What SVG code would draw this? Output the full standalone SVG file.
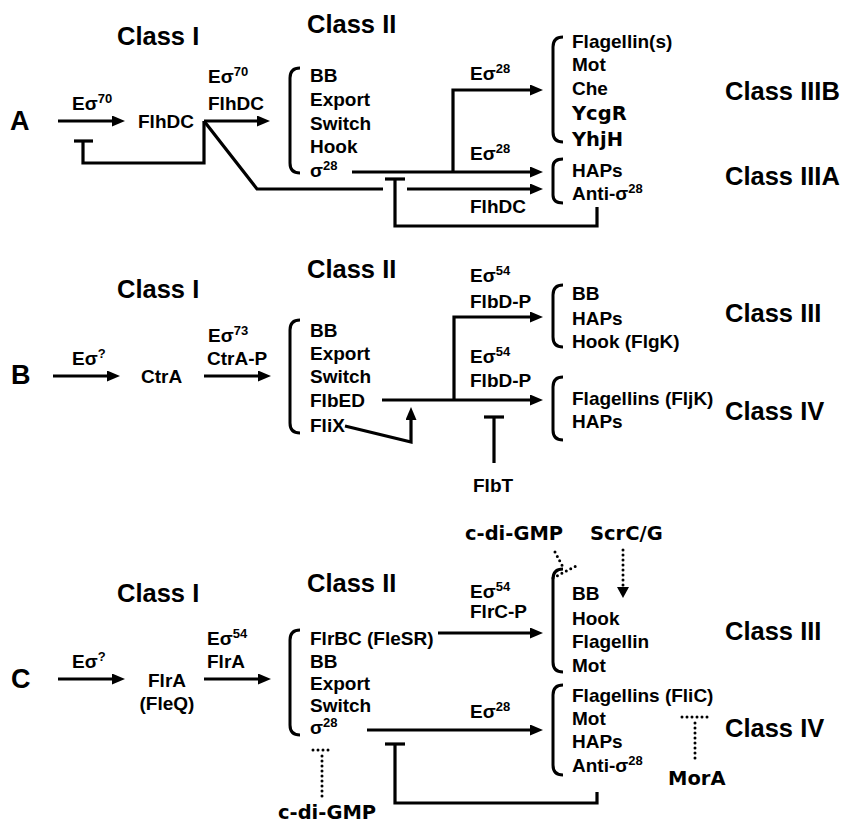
<svg xmlns="http://www.w3.org/2000/svg" width="846" height="824" viewBox="0 0 846 824">
<defs>
<style>
.t{font-family:"Liberation Sans",Arial,sans-serif;font-weight:bold;font-size:19px;fill:#000}
.c{font-size:25.5px}
.p{font-size:27px}
.h{font-family:"DejaVu Sans",Verdana,sans-serif;font-weight:bold;font-size:19.5px;fill:#000}
.s{font-size:13px}
.ln{stroke:#000;stroke-width:3.2;fill:none}
.ar{stroke:#000;stroke-width:3.2;fill:none;marker-end:url(#ah)}
.br{stroke:#000;stroke-width:3;fill:none}
.dt{stroke:#000;stroke-width:3;fill:none;stroke-dasharray:0 5;stroke-linecap:round}
</style>
<marker id="ah" viewBox="0 0 13 11" refX="4" refY="5.5" markerWidth="13" markerHeight="11" markerUnits="userSpaceOnUse" orient="auto">
<path d="M0,0 L13,5.5 L0,11 z" fill="#000"/>
</marker>
</defs>
<rect width="846" height="824" fill="#fff"/>

<g id="connectors">
<!-- Panel A -->
<line class="ar" x1="58" y1="121" x2="116" y2="121"/>
<line class="ar" x1="204" y1="121" x2="261" y2="121"/>
<polyline class="ln" points="204,121 204,163 83,163 83,141"/>
<line class="ln" x1="74" y1="141" x2="93" y2="141"/>
<polyline class="ln" points="204,121 257,189 383,189"/>
<line class="ar" x1="352" y1="172" x2="534" y2="172"/>
<polyline class="ar" points="453,172 453,90 534,90"/>
<line class="ar" x1="407" y1="189" x2="534" y2="189"/>
<line class="ln" x1="385" y1="179" x2="405" y2="179"/>
<polyline class="ln" points="395,179 395,226 597,226 597,207"/>
<!-- Panel B -->
<line class="ar" x1="53" y1="376" x2="111" y2="376"/>
<line class="ar" x1="204" y1="376" x2="262" y2="376"/>
<line class="ar" x1="382" y1="400" x2="534" y2="400"/>
<polyline class="ar" points="454,400 454,317 534,317"/>
<polyline class="ar" points="345,426 411,442 411,416"/>
<line class="ln" x1="484" y1="417" x2="504" y2="417"/>
<line class="ln" x1="494" y1="417" x2="494" y2="463"/>
<!-- Panel C -->
<line class="ar" x1="58" y1="679" x2="116" y2="679"/>
<line class="ar" x1="204" y1="679" x2="262" y2="679"/>
<line class="ar" x1="438" y1="633" x2="534" y2="633"/>
<line class="ar" x1="367" y1="730" x2="534" y2="730"/>
<line class="ln" x1="385" y1="744" x2="405" y2="744"/>
<polyline class="ln" points="395,744 395,803 597,803 597,792"/>
<line class="dt" x1="313" y1="750" x2="332" y2="750"/>
<line class="dt" x1="322" y1="756" x2="322" y2="797"/>
<line class="dt" x1="555" y1="552" x2="564" y2="569"/>
<line class="dt" x1="553" y1="578" x2="576" y2="566"/>
<line class="dt" x1="623" y1="550" x2="623" y2="586"/>
<path d="M617,587 L629,587 L623,598 z" fill="#000"/>
<line class="dt" x1="695" y1="758" x2="695" y2="722"/>
<line class="dt" x1="682" y1="717" x2="708" y2="717"/>
</g>

<g id="panelA">
<text class="t p" x="10" y="130">A</text>
<text class="t c" x="117" y="45">Class I</text>
<text class="t c" x="307" y="33">Class II</text>
<text class="t" x="72" y="110">Eσ<tspan class="s" dy="-7">70</tspan></text>
<text class="t" x="138" y="128">FlhDC</text>
<text class="t" x="208" y="83">Eσ<tspan class="s" dy="-7">70</tspan></text>
<text class="t" x="208" y="110">FlhDC</text>
<path class="br" d="M300,68 Q290,68 290,78 V163 Q290,173 300,173"/>
<text class="t" x="310" y="82">BB</text>
<text class="t" x="310" y="106">Export</text>
<text class="t" x="310" y="130">Switch</text>
<text class="t" x="310" y="153">Hook</text>
<text class="t" x="310" y="177">σ<tspan class="s" dy="-7">28</tspan></text>
<text class="t" x="470" y="80">Eσ<tspan class="s" dy="-7">28</tspan></text>
<text class="t" x="470" y="160">Eσ<tspan class="s" dy="-7">28</tspan></text>
<text class="t" x="470" y="213">FlhDC</text>
<path class="br" d="M563,37 Q553,37 553,47 V132 Q553,142 563,142"/>
<text class="t" x="572" y="48">Flagellin(s)</text>
<text class="t" x="572" y="71">Mot</text>
<text class="t" x="572" y="95">Che</text>
<text class="h" x="572" y="120">YcgR</text>
<text class="h" x="572" y="146">YhjH</text>
<path class="br" d="M563,159 Q553,159 553,167 V195 Q553,203 563,203"/>
<text class="t" x="572" y="177">HAPs</text>
<text class="t" x="572" y="200">Anti-σ<tspan class="s" dy="-7">28</tspan></text>
<text class="t c" x="725" y="100">Class IIIB</text>
<text class="t c" x="725" y="185">Class IIIA</text>
</g>

<g id="panelB">
<text class="t p" x="11" y="384">B</text>
<text class="t c" x="117" y="298">Class I</text>
<text class="t c" x="307" y="278">Class II</text>
<text class="t" x="72" y="365">Eσ<tspan class="s" dy="-7">?</tspan></text>
<text class="t" x="141" y="383">CtrA</text>
<text class="t" x="208" y="342">Eσ<tspan class="s" dy="-7">73</tspan></text>
<text class="t" x="207" y="365">CtrA-P</text>
<path class="br" d="M300,320 Q290,320 290,330 V423 Q290,433 300,433"/>
<text class="t" x="310" y="337">BB</text>
<text class="t" x="310" y="360">Export</text>
<text class="t" x="310" y="383">Switch</text>
<text class="t" x="310" y="407">FlbED</text>
<text class="t" x="310" y="432">FliX</text>
<text class="t" x="470" y="282">Eσ<tspan class="s" dy="-7">54</tspan></text>
<text class="t" x="470" y="308">FlbD-P</text>
<text class="t" x="470" y="363">Eσ<tspan class="s" dy="-7">54</tspan></text>
<text class="t" x="470" y="387">FlbD-P</text>
<text class="t" x="473" y="492">FlbT</text>
<path class="br" d="M563,285 Q553,285 553,295 V337 Q553,347 563,347"/>
<text class="t" x="572" y="300">BB</text>
<text class="t" x="572" y="325">HAPs</text>
<text class="t" x="572" y="348">Hook (FlgK)</text>
<path class="br" d="M563,377 Q553,377 553,387 V430 Q553,440 563,440"/>
<text class="t" x="572" y="405">Flagellins (FljK)</text>
<text class="t" x="572" y="428">HAPs</text>
<text class="t c" x="725" y="322">Class III</text>
<text class="t c" x="725" y="420">Class IV</text>
</g>

<g id="panelC">
<text class="t p" x="11" y="688">C</text>
<text class="t c" x="117" y="602">Class I</text>
<text class="t c" x="307" y="592">Class II</text>
<text class="t" x="72" y="668">Eσ<tspan class="s" dy="-7">?</tspan></text>
<text class="t" x="167" y="687" text-anchor="middle">FlrA</text>
<text class="t" x="167" y="710" text-anchor="middle">(FleQ)</text>
<text class="t" x="207" y="645">Eσ<tspan class="s" dy="-7">54</tspan></text>
<text class="t" x="207" y="668">FlrA</text>
<path class="br" d="M300,630 Q290,630 290,640 V725 Q290,735 300,735"/>
<text class="t" x="310" y="645">FlrBC (FleSR)</text>
<text class="t" x="310" y="668">BB</text>
<text class="t" x="310" y="690">Export</text>
<text class="t" x="310" y="712">Switch</text>
<text class="t" x="310" y="734">σ<tspan class="s" dy="-7">28</tspan></text>
<text class="h" x="278" y="819">c-di-GMP</text>
<text class="t" x="470" y="598">Eσ<tspan class="s" dy="-7">54</tspan></text>
<text class="t" x="470" y="618">FlrC-P</text>
<text class="t" x="470" y="718">Eσ<tspan class="s" dy="-7">28</tspan></text>
<text class="h" x="465" y="540">c-di-GMP</text>
<text class="h" x="590" y="540">ScrC/G</text>
<path class="br" d="M563,569 Q553,569 553,579 V662 Q553,672 563,672"/>
<text class="t" x="572" y="600">BB</text>
<text class="t" x="572" y="625">Hook</text>
<text class="t" x="572" y="648">Flagellin</text>
<text class="t" x="572" y="672">Mot</text>
<path class="br" d="M563,685 Q553,685 553,695 V765 Q553,775 563,775"/>
<text class="t" x="572" y="702">Flagellins (FliC)</text>
<text class="t" x="572" y="725">Mot</text>
<text class="t" x="572" y="748">HAPs</text>
<text class="t" x="572" y="772">Anti-σ<tspan class="s" dy="-7">28</tspan></text>
<text class="h" x="668" y="785">MorA</text>
<text class="t c" x="725" y="640">Class III</text>
<text class="t c" x="725" y="737">Class IV</text>
</g>
</svg>
